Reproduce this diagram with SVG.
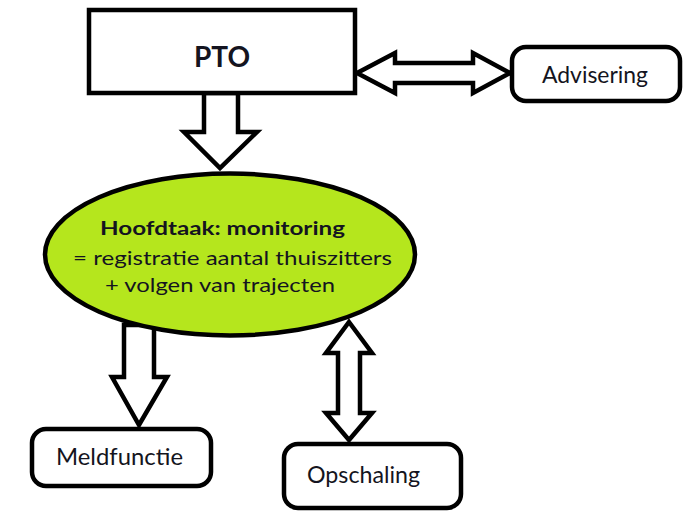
<svg xmlns="http://www.w3.org/2000/svg" width="690" height="512" viewBox="0 0 690 512">
<style>
.box{fill:#fff;stroke:#000;stroke-width:4.5}
.arr{fill:#fff;stroke:#000;stroke-width:4.5;stroke-linejoin:miter}
.t{font-family:Lato,"Open Sans","Noto Sans",sans-serif;fill:#141420}
.lbl{font-size:23.5px}
</style>
<rect width="690" height="512" fill="#fff"/>
<g id="connectors">
<polygon class="arr" points="204,93 238,93 238,132 257,132 220,168 184,132 204,132"/>
<polygon class="arr" points="357,73 395,53 395,63 473,63 473,53 510,73 473,93 473,83 395,83 395,93"/>
<polygon class="arr" points="124,325 154,325 154,377 167,377 139,425 112,377 124,377"/>
</g>
<g id="pto">
<rect class="box" x="89" y="10" width="266" height="83"/>
<text class="t" x="222" y="67" font-size="28" font-weight="bold" text-anchor="middle">PTO</text>
</g>
<g id="monitoring">
<ellipse cx="230" cy="254.5" rx="185" ry="81" fill="#b5e61d" stroke="#000" stroke-width="4.5"/>
<text class="t" x="100" y="235" font-size="19" font-weight="bold" textLength="245" lengthAdjust="spacingAndGlyphs">Hoofdtaak: monitoring</text>
<text class="t" x="73" y="265" font-size="19" textLength="319" lengthAdjust="spacingAndGlyphs">= registratie aantal thuiszitters</text>
<text class="t" x="105" y="292" font-size="19" textLength="230" lengthAdjust="spacingAndGlyphs">+ volgen van trajecten</text>
</g>
<g id="connectors2">
<polygon class="arr" points="349,322 372,353 360,353 360,413 372,413 349,440 326,413 338,413 338,353 326,353"/>
</g>
<g id="advisering">
<rect class="box" x="512" y="47" width="168" height="54" rx="14"/>
<text class="t lbl" x="542" y="83" textLength="106" lengthAdjust="spacingAndGlyphs">Advisering</text>
</g>
<g id="meldfunctie">
<rect class="box" x="32" y="429" width="179" height="57" rx="14"/>
<text class="t lbl" x="56" y="465" textLength="127" lengthAdjust="spacingAndGlyphs">Meldfunctie</text>
</g>
<g id="opschaling">
<rect class="box" x="284" y="444" width="177" height="64" rx="14"/>
<text class="t lbl" x="307" y="483" textLength="113" lengthAdjust="spacingAndGlyphs">Opschaling</text>
</g>
</svg>
